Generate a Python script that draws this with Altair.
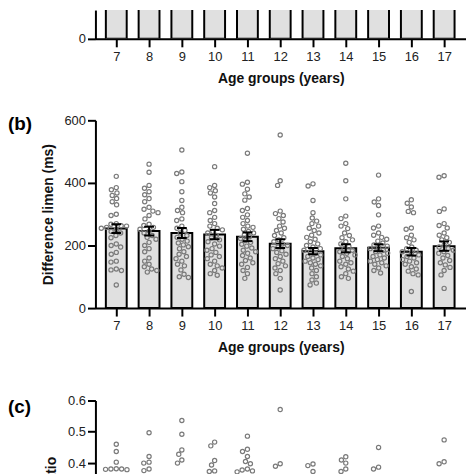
import altair as alt
import pandas as pd

# ---------------- data ----------------
ages = [7, 8, 9, 10, 11, 12, 13, 14, 15, 16, 17]

# panel (a): only the bases of the bars are inside the cropped picture
panel_a_bar_values = [100, 100, 100, 100, 100, 100, 100, 100, 100, 100, 100]

# panel (b): difference limen (ms), individual participants
dl_7 = [421, 385, 378, 368, 360, 350, 340, 330, 300, 296, 270, 268, 263, 262, 258, 255, 250, 245, 240, 232, 225, 205, 200, 195, 178, 172, 150, 147, 125, 122, 120, 74]
dl_8 = [460, 434, 392, 383, 372, 362, 350, 340, 322, 316, 310, 305, 296, 285, 268, 264, 258, 252, 246, 240, 232, 226, 220, 210, 200, 190, 180, 160, 150, 140, 132, 125, 120, 115]
dl_9 = [505, 435, 430, 404, 372, 344, 322, 312, 305, 285, 280, 262, 255, 248, 240, 232, 226, 220, 214, 208, 202, 196, 190, 180, 172, 165, 158, 150, 140, 135, 122, 108, 100, 98]
dl_10 = [452, 392, 385, 375, 368, 355, 334, 312, 305, 290, 280, 270, 262, 255, 250, 245, 240, 232, 225, 218, 212, 205, 198, 190, 185, 178, 170, 165, 158, 150, 140, 135, 128, 120, 110, 105]
dl_11 = [495, 402, 396, 380, 365, 355, 345, 318, 312, 298, 290, 280, 270, 262, 258, 252, 245, 240, 234, 228, 222, 216, 210, 204, 198, 192, 185, 180, 175, 168, 160, 152, 145, 140, 130, 120, 110, 95]
dl_12 = [553, 407, 392, 310, 302, 296, 286, 275, 262, 255, 248, 240, 232, 225, 218, 212, 205, 200, 195, 190, 183, 178, 172, 165, 158, 150, 142, 135, 128, 120, 110, 95, 58]
dl_13 = [397, 390, 344, 305, 288, 278, 270, 262, 255, 248, 240, 233, 226, 220, 212, 205, 200, 195, 190, 185, 180, 175, 170, 165, 160, 155, 150, 145, 140, 135, 128, 120, 110, 100, 90, 80, 74]
dl_14 = [463, 407, 349, 294, 286, 270, 262, 254, 240, 232, 225, 218, 212, 205, 198, 190, 185, 180, 175, 170, 165, 158, 150, 145, 140, 132, 125, 118, 110, 100, 95]
dl_15 = [425, 349, 339, 328, 298, 262, 256, 240, 233, 226, 220, 214, 208, 202, 198, 194, 190, 185, 180, 175, 170, 165, 160, 155, 150, 145, 140, 135, 128, 120, 112]
dl_16 = [346, 335, 323, 309, 305, 256, 252, 233, 225, 218, 210, 195, 190, 185, 180, 175, 170, 165, 160, 155, 150, 145, 140, 132, 125, 118, 110, 106, 53]
dl_17 = [423, 418, 317, 309, 270, 264, 256, 240, 233, 225, 218, 210, 201, 195, 190, 185, 180, 175, 168, 160, 152, 145, 138, 130, 120, 106, 63]
dl_groups = [dl_7, dl_8, dl_9, dl_10, dl_11, dl_12, dl_13, dl_14, dl_15, dl_16, dl_17]
dl_means = [254, 246, 240, 235, 228, 206, 182, 191, 193, 180, 198]
dl_sem = [14, 14, 16, 15, 14, 14, 10, 13, 11, 12, 15]

# panel (c): only the upper points are inside the cropped picture
r_7 = [0.460, 0.437, 0.403, 0.382, 0.381, 0.380, 0.379, 0.381]
r_8 = [0.497, 0.421, 0.403, 0.400, 0.381, 0.376]
r_9 = [0.536, 0.492, 0.442, 0.428, 0.410, 0.400]
r_10 = [0.467, 0.455, 0.408, 0.394, 0.375, 0.373]
r_11 = [0.486, 0.444, 0.437, 0.421, 0.405, 0.398, 0.381, 0.378, 0.375, 0.372]
r_12 = [0.571, 0.398, 0.390]
r_13 = [0.397, 0.392, 0.373]
r_14 = [0.420, 0.410, 0.400, 0.381, 0.373]
r_15 = [0.450, 0.387, 0.381]
r_16 = []
r_17 = [0.474, 0.404, 0.398]
r_groups = [r_7, r_8, r_9, r_10, r_11, r_12, r_13, r_14, r_15, r_16, r_17]

panel_labels = ["(b)", "(c)"]
x_title = "Age groups (years)"
y_title_b = "Difference limen (ms)"
y_title_c = "Weber ratio"

# ---------------- layout helpers ----------------
FONT = "Liberation Sans"
X0, X1 = 6.364, 17.667
PW = 373
PX_PER_AGE = PW / (X1 - X0)
HALF_BAR = 0.318
CAP = 0.15
DOT_SIZE = 18
DOT_COLOR = "#7a7a7a"


def swarm(values, px_per_unit, d=5.4):
    """Deterministic beeswarm: nearest free horizontal offset (pixels)."""
    order = sorted(range(len(values)), key=lambda i: -values[i])
    placed = []
    offs = [0.0] * len(values)
    for i in order:
        y = values[i] * px_per_unit
        cands = [0.0]
        for (px, py) in placed:
            dy = abs(py - y)
            if dy < d:
                dx = (d * d - dy * dy) ** 0.5
                cands += [px + dx, px - dx]
        cands.sort(key=lambda c: (abs(c), c))
        for c in cands:
            if all((c - px) ** 2 + (y - py) ** 2 >= d * d - 1e-6 for px, py in placed):
                offs[i] = c
                placed.append((c, y))
                break
    return offs


def dots_frame(groups, px_per_unit):
    rows = []
    for age, vals in zip(ages, groups):
        offs = swarm(vals, px_per_unit)
        for v, o in zip(vals, offs):
            rows.append({"age": age, "value": v, "xpos": age + o / PX_PER_AGE})
    return pd.DataFrame(rows)


xscale = alt.Scale(domain=[X0, X1], nice=False, zero=False)
xaxis = alt.Axis(values=ages, title=x_title, labelPadding=4, titlePadding=8, format="d")


def X(field):
    return alt.X(field, type="quantitative", scale=xscale, axis=xaxis)


# ---------------- panel (a) ----------------
a_df = pd.DataFrame({"age": ages, "val": panel_a_bar_values})
a_df["left"] = a_df["age"] - HALF_BAR
a_df["right"] = a_df["age"] + HALF_BAR
a_y = alt.Y("val:Q", scale=alt.Scale(domain=[0, 92], nice=False),
            axis=alt.Axis(values=[0], title=None))
panel_a = alt.Chart(a_df).mark_rect(
    fill="#e0e0e0", stroke="black", strokeWidth=2, clip=True
).encode(x=X("left"), x2="right", y=a_y, y2=alt.datum(0)).properties(width=PW, height=29)

# ---------------- panel (b) ----------------
b_bars = pd.DataFrame({"age": ages, "mean": dl_means, "sem": dl_sem})
b_bars["left"] = b_bars["age"] - HALF_BAR
b_bars["right"] = b_bars["age"] + HALF_BAR
b_bars["lo"] = b_bars["mean"] - b_bars["sem"]
b_bars["hi"] = b_bars["mean"] + b_bars["sem"]
b_bars["capL"] = b_bars["age"] - CAP
b_bars["capR"] = b_bars["age"] + CAP
b_dots = dots_frame(dl_groups, 189 / 600)

yscale_b = alt.Scale(domain=[0, 600], nice=False)
yaxis_b = alt.Axis(values=[0, 200, 400, 600], title=y_title_b, titlePadding=9)


def YB(field):
    return alt.Y(field, type="quantitative", scale=yscale_b, axis=yaxis_b)


bars_b = alt.Chart(b_bars).mark_rect(fill="#e0e0e0", stroke="black", strokeWidth=2).encode(
    x=X("left"), x2="right", y=YB("mean"), y2=alt.datum(0))
pts_b = alt.Chart(b_dots).mark_point(shape="circle", filled=False, size=DOT_SIZE, strokeWidth=1.2,
                                     color=DOT_COLOR, opacity=1).encode(x=X("xpos"), y=YB("value"))
err_b = alt.Chart(b_bars).mark_rule(color="black", strokeWidth=2).encode(
    x=X("age"), y=YB("lo"), y2="hi")
caph_b = alt.Chart(b_bars).mark_rule(color="black", strokeWidth=2).encode(
    x=X("capL"), x2="capR", y=YB("hi"))
capl_b = alt.Chart(b_bars).mark_rule(color="black", strokeWidth=2).encode(
    x=X("capL"), x2="capR", y=YB("lo"))
lab_b = alt.Chart(pd.DataFrame({"t": [panel_labels[0]]})).mark_text(
    align="left", baseline="middle", fontSize=19, fontWeight="bold", font=FONT, color="black"
).encode(text="t:N", x=alt.value(-88), y=alt.value(4))
panel_b = alt.layer(bars_b, pts_b, err_b, caph_b, capl_b, lab_b).properties(width=PW, height=189)

# ---------------- panel (c) ----------------
c_dots = dots_frame(r_groups, 189 / 0.6)
yscale_c = alt.Scale(domain=[0, 0.6], nice=False)
yaxis_c = alt.Axis(values=[0.0, 0.1, 0.2, 0.3, 0.4, 0.5, 0.6], format=".1f", title=y_title_c,
                   titlePadding=9)
pts_c = alt.Chart(c_dots).mark_point(shape="circle", filled=False, size=DOT_SIZE, strokeWidth=1.2,
                                     color=DOT_COLOR, opacity=1).encode(
    x=X("xpos"), y=alt.Y("value:Q", scale=yscale_c, axis=yaxis_c))
lab_c = alt.Chart(pd.DataFrame({"t": [panel_labels[1]]})).mark_text(
    align="left", baseline="middle", fontSize=19, fontWeight="bold", font=FONT, color="black"
).encode(text="t:N", x=alt.value(-88), y=alt.value(7))
panel_c = alt.layer(pts_c, lab_c).properties(width=PW, height=189)

chart = alt.vconcat(
    alt.vconcat(panel_a, panel_b, spacing=29),
    panel_c,
    spacing=40,
).properties(padding=0).configure_axis(
    domainColor="black", domainWidth=2, tickColor="black", tickWidth=2, tickSize=8,
    labelFont=FONT, labelFontSize=13, labelColor="#222",
    titleFont=FONT, titleFontSize=14, titleFontWeight="bold", titleColor="#111",
    grid=False,
).configure_view(stroke=None)

chart.save("out.html", embed_options={"renderer": "svg", "actions": False})
